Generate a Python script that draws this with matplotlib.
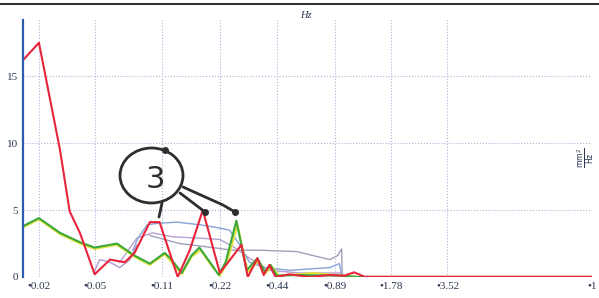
import matplotlib
matplotlib.use("Agg")
import matplotlib.pyplot as plt
from matplotlib.patches import Ellipse
from matplotlib.lines import Line2D

# x axis: band position (one unit ~ one octave on the printed chart)
tick_pos = [0.28, 1.26, 2.44, 3.46, 4.47, 5.49, 6.47, 7.46, 10.0]
tick_lab = ["•0.02", "•0.05", "•0.11", "•0.22", "•0.44", "•0.89", "•1.78", "•3.52", "•1"]

red_x = [0, 0.28, 0.65, 0.82, 1.0, 1.26, 1.53, 1.79, 1.96, 2.23, 2.40, 2.72, 2.93, 3.16,
         3.46, 3.84, 3.95, 4.12, 4.23, 4.33, 4.44, 4.68, 5.04, 5.39, 5.65, 5.82, 6.0, 10.0]
red_y = [16.2, 17.5, 9.5, 4.9, 3.3, 0.2, 1.3, 1.1, 1.8, 4.1, 4.1, 0.0, 2.0, 5.0,
         0.3, 2.4, 0.0, 1.4, 0.15, 0.9, 0.0, 0.2, 0.0, 0.15, 0.1, 0.35, 0.02, 0.02]

green_x = [0, 0.28, 0.65, 1.0, 1.26, 1.65, 1.96, 2.23, 2.49, 2.61, 2.79, 2.96, 3.10, 3.32,
           3.44, 3.56, 3.75, 3.93, 4.12, 4.25, 4.35, 4.46, 4.86, 5.56, 5.90, 10.0]
green_y = [3.8, 4.4, 3.3, 2.6, 2.2, 2.5, 1.6, 1.0, 1.8, 1.3, 0.3, 1.6, 2.2, 0.9,
           0.15, 1.1, 4.2, 0.5, 1.4, 0.4, 0.9, 0.1, 0.15, 0.1, 0.0, 0.0]

yellow_x = [0, 0.28, 0.65, 1.0, 1.26, 1.65, 1.96, 2.23, 2.49, 2.79, 2.96, 3.12, 3.32,
            3.46, 3.58, 3.77, 3.95, 4.14, 4.27, 4.37, 4.50, 5.10, 5.90, 10.0]
yellow_y = [3.7, 4.3, 3.2, 2.5, 2.1, 2.4, 1.5, 0.9, 1.7, 0.2, 1.5, 2.0, 0.8,
            0.1, 1.0, 3.9, 0.4, 1.2, 0.3, 0.8, 0.1, 0.3, 0.0, 0.0]

steel_x = [1.93, 2.02, 2.18, 2.35, 2.70, 3.11, 3.40, 3.63, 3.81, 3.98, 4.25, 4.68, 5.39, 5.56, 5.61, 5.91]
steel_y = [2.0, 2.9, 3.9, 4.0, 4.1, 3.9, 3.7, 3.5, 2.4, 1.1, 0.7, 0.5, 0.7, 1.0, 0.0, 0.0]

lav_x = [1.70, 2.00, 2.28, 2.63, 3.11, 3.46, 3.72, 3.98, 4.33, 4.86, 5.61, 5.65]
lav_y = [1.1, 2.9, 3.3, 3.0, 2.9, 2.8, 2.2, 1.4, 0.5, 0.3, 0.3, 0.0]

grey_x = [2.23, 2.75, 3.33, 3.68, 4.16, 4.81, 5.39, 5.53, 5.60, 5.61, 5.91]
grey_y = [3.1, 2.5, 2.2, 2.0, 2.0, 1.9, 1.3, 1.6, 2.1, 0.0, 0.0]

purple_x = [1.26, 1.35, 1.53, 1.70, 1.88, 2.00]
purple_y = [0.5, 1.3, 1.1, 0.7, 1.3, 2.4]

fig = plt.figure(figsize=(5.99, 2.98), dpi=100)
ax = fig.add_axes([23 / 599, 21 / 298, 569 / 599, 257 / 298])

ax.plot(purple_x, purple_y, color="#a890c8", lw=0.9)
ax.plot(grey_x, grey_y, color="#a0a0bc", lw=1.0)
ax.plot(lav_x, lav_y, color="#b8a0d0", lw=1.0)
ax.plot(steel_x, steel_y, color="#86a2d8", lw=1.0)
ax.plot(yellow_x, yellow_y, color="#e2e23a", lw=1.4)
ax.plot(green_x, green_y, color="#3aa83a", lw=1.5)
ax.plot(red_x, red_y, color="#e8243a", lw=1.5)

ax.set_xlim(0, 10)
ax.set_ylim(0, 19.2)
ax.set_xticks(tick_pos)
ax.set_xticklabels(tick_lab)
ax.set_yticks([0, 5, 10, 15])
ax.tick_params(length=0, labelsize=8, colors="#2a3550", pad=3.5)
for lab in ax.get_xticklabels() + ax.get_yticklabels():
    lab.set_family("Liberation Serif")
ax.grid(True, ls=":", color="#a8b4d8", lw=0.8)
for s in ["top", "right", "bottom"]:
    ax.spines[s].set_visible(False)
ax.spines["left"].set_color("#2a5db0")
ax.spines["left"].set_linewidth(1.6)

fig.text(306 / 599, 1 - 15 / 298, "Hz", fontsize=7.5, family="Liberation Serif",
         style="italic", color="#2a3550", ha="center", va="center")
fig.text(586 / 599, 1 - 158 / 298, r"$\frac{\mathrm{mm^2}}{\mathrm{Hz}}$", fontsize=8,
         rotation=90, color="#2a3550", ha="center", va="center")

# scan border at the top
fig.add_artist(Line2D([0, 1], [1 - 4 / 298, 1 - 4 / 298], color="#333333", lw=1.5))

# hand-drawn mark
ink = "#2e2e2e"
def px(x, y):
    return (x / 599, 1 - y / 298)

cx, cy = px(151.5, 175.5)
fig.add_artist(Ellipse((cx, cy), 63 / 599, 55 / 298, fill=False, ec=ink, lw=2,
                       transform=fig.transFigure))
fig.text(*px(155, 180), "3", fontsize=22, color=ink, ha="center", va="center",
         family="DejaVu Sans")
strokes = [[(162, 203), (159, 217)],
           [(180, 193), (205, 212)],
           [(183, 187), (223, 205), (235, 212)]]
for st in strokes:
    xs = [px(a, b)[0] for a, b in st]
    ys = [px(a, b)[1] for a, b in st]
    fig.add_artist(Line2D(xs, ys, color=ink, lw=2, solid_capstyle="round"))
for d in [(205, 212), (235, 212), (165, 150)]:
    fig.add_artist(Line2D([px(*d)[0]], [px(*d)[1]], marker="o", ms=4, color=ink))

fig.savefig("out.png", dpi=100)
